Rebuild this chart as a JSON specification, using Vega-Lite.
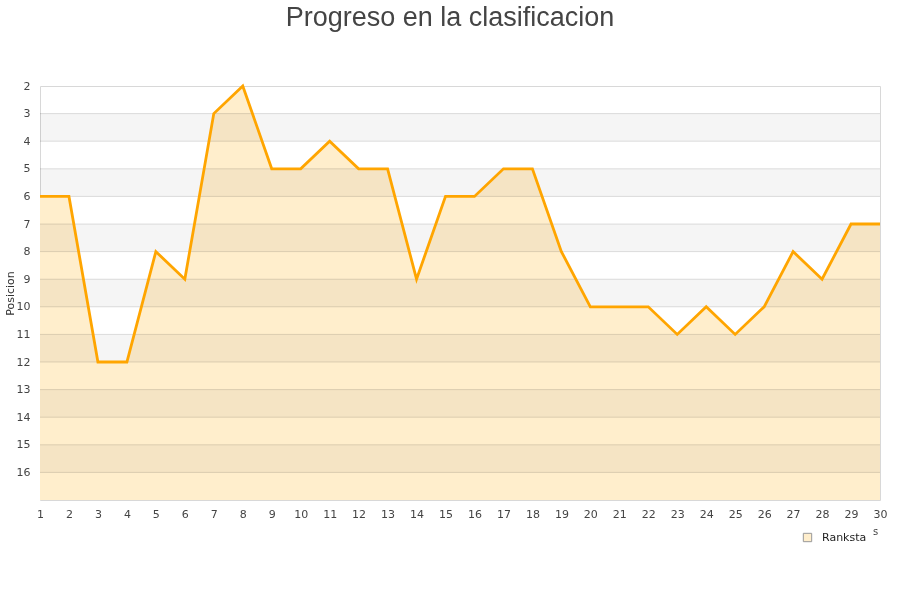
{
  "$schema": "https://vega.github.io/schema/vega-lite/v6.json",
  "width": 840,
  "height": 414,
  "autosize": "none",
  "padding": {"left": 40, "top": 86, "right": 20, "bottom": 100},
  "background": "white",
  "config": {
    "view": {"stroke": "#d8d8d8", "strokeWidth": 1},
    "font": "DejaVu Sans",
    "axis": {"labelOverlap": false, "labelFlush": false, "ticks": false, "domain": false, "grid": false, "labelFont": "DejaVu Sans", "labelFontSize": 11, "labelColor": "#444444"}
  },
  "title": {
    "text": "Progreso en la clasificacion",
    "font": "Liberation Sans",
    "fontSize": 27,
    "fontWeight": "normal",
    "color": "#444444",
    "anchor": "middle",
    "dx": -10,
    "offset": 48
  },
  "datasets": {
    "ranks": [
      {"jornada": 1, "posicion": 6, "serie": "Ranksta"},
      {"jornada": 2, "posicion": 6, "serie": "Ranksta"},
      {"jornada": 3, "posicion": 12, "serie": "Ranksta"},
      {"jornada": 4, "posicion": 12, "serie": "Ranksta"},
      {"jornada": 5, "posicion": 8, "serie": "Ranksta"},
      {"jornada": 6, "posicion": 9, "serie": "Ranksta"},
      {"jornada": 7, "posicion": 3, "serie": "Ranksta"},
      {"jornada": 8, "posicion": 2, "serie": "Ranksta"},
      {"jornada": 9, "posicion": 5, "serie": "Ranksta"},
      {"jornada": 10, "posicion": 5, "serie": "Ranksta"},
      {"jornada": 11, "posicion": 4, "serie": "Ranksta"},
      {"jornada": 12, "posicion": 5, "serie": "Ranksta"},
      {"jornada": 13, "posicion": 5, "serie": "Ranksta"},
      {"jornada": 14, "posicion": 9, "serie": "Ranksta"},
      {"jornada": 15, "posicion": 6, "serie": "Ranksta"},
      {"jornada": 16, "posicion": 6, "serie": "Ranksta"},
      {"jornada": 17, "posicion": 5, "serie": "Ranksta"},
      {"jornada": 18, "posicion": 5, "serie": "Ranksta"},
      {"jornada": 19, "posicion": 8, "serie": "Ranksta"},
      {"jornada": 20, "posicion": 10, "serie": "Ranksta"},
      {"jornada": 21, "posicion": 10, "serie": "Ranksta"},
      {"jornada": 22, "posicion": 10, "serie": "Ranksta"},
      {"jornada": 23, "posicion": 11, "serie": "Ranksta"},
      {"jornada": 24, "posicion": 10, "serie": "Ranksta"},
      {"jornada": 25, "posicion": 11, "serie": "Ranksta"},
      {"jornada": 26, "posicion": 10, "serie": "Ranksta"},
      {"jornada": 27, "posicion": 8, "serie": "Ranksta"},
      {"jornada": 28, "posicion": 9, "serie": "Ranksta"},
      {"jornada": 29, "posicion": 7, "serie": "Ranksta"},
      {"jornada": 30, "posicion": 7, "serie": "Ranksta"}
    ],
    "bands": [
      {"desde": 3, "hasta": 4},
      {"desde": 5, "hasta": 6},
      {"desde": 7, "hasta": 8},
      {"desde": 9, "hasta": 10},
      {"desde": 11, "hasta": 12},
      {"desde": 13, "hasta": 14},
      {"desde": 15, "hasta": 16}
    ],
    "grid": [
      {"nivel": 3}, {"nivel": 4}, {"nivel": 5}, {"nivel": 6}, {"nivel": 7},
      {"nivel": 8}, {"nivel": 9}, {"nivel": 10}, {"nivel": 11}, {"nivel": 12},
      {"nivel": 13}, {"nivel": 14}, {"nivel": 15}, {"nivel": 16}
    ]
  },
  "layer": [
    {
      "data": {"name": "ranks"},
      "mark": {"type": "area", "interpolate": "linear"},
      "encoding": {
        "x": {
          "field": "jornada",
          "type": "quantitative",
          "scale": {"domain": [1, 30], "nice": false, "zero": false},
          "axis": {
            "values": [1,2,3,4,5,6,7,8,9,10,11,12,13,14,15,16,17,18,19,20,21,22,23,24,25,26,27,28,29,30],
            "tickCount": 30,
            "title": "s",
            "titleFont": "DejaVu Sans",
            "titleFontSize": 10,
            "titleFontWeight": "normal",
            "titleColor": "#444444",
            "titleX": 835,
            "titleY": 26,
            "titleAlign": "center",
            "labelPadding": 8,
            "labelOverlap": false
          }
        },
        "y": {
          "field": "posicion",
          "type": "quantitative",
          "scale": {"domain": [2, 17], "reverse": true, "nice": false, "zero": false},
          "axis": {
            "values": [2,3,4,5,6,7,8,9,10,11,12,13,14,15,16],
            "tickCount": 15,
            "title": "Posicion",
            "titleFont": "DejaVu Sans",
            "titleFontSize": 11,
            "titleFontWeight": "normal",
            "titleColor": "#333333",
            "titlePadding": 1,
            "labelPadding": 10,
            "labelOverlap": false
          }
        },
        "y2": {"datum": 17},
        "fill": {
          "field": "serie",
          "type": "nominal",
          "scale": {"range": ["#ffeecc"]},
          "legend": {
            "title": null,
            "orient": "none",
            "legendX": 762,
            "legendY": 446,
            "symbolType": "square",
            "symbolSize": 70,
            "symbolStrokeColor": "#999999",
            "symbolStrokeWidth": 1,
            "symbolOpacity": 1,
            "labelFont": "DejaVu Sans",
            "labelFontSize": 11,
            "labelColor": "#222222",
            "labelOffset": 9
          }
        }
      }
    },
    {
      "data": {"name": "bands"},
      "mark": {"type": "rect", "fill": "#f5f5f5", "blend": "multiply"},
      "encoding": {
        "y": {"field": "desde", "type": "quantitative"},
        "y2": {"field": "hasta"}
      }
    },
    {
      "data": {"name": "grid"},
      "mark": {"type": "rule", "stroke": "#e0e0e0", "strokeWidth": 1, "blend": "multiply"},
      "encoding": {
        "y": {"field": "nivel", "type": "quantitative"}
      }
    },
    {
      "data": {"name": "ranks"},
      "mark": {"type": "line", "color": "#ffa500", "strokeWidth": 2.8, "interpolate": "linear"},
      "encoding": {
        "x": {"field": "jornada", "type": "quantitative"},
        "y": {"field": "posicion", "type": "quantitative"}
      }
    }
  ]
}
